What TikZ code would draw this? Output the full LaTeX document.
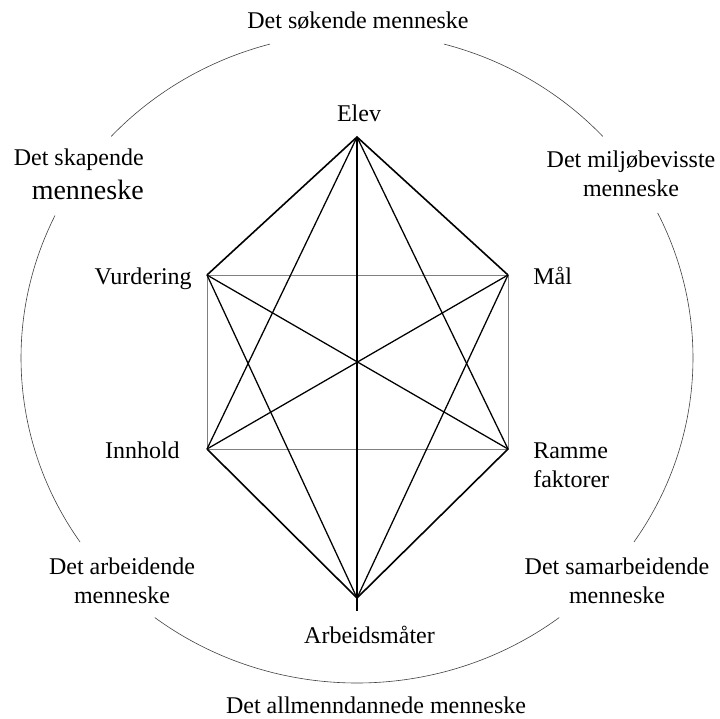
\documentclass[tikz,border=0pt]{standalone}
\usepackage{fontspec}
\setmainfont{Liberation Serif}
\begin{document}
\begin{tikzpicture}[x=0.75pt,y=0.75pt,
  lbl/.style={font=\fontsize{18}{21.75}\selectfont, inner sep=0pt},
  ring/.style={line width=0.45pt, black!75},
  heavy/.style={line width=1.2pt, line join=miter},
  mid/.style={line width=0.95pt},
  axisline/.style={line width=1.7pt},
  frame/.style={line width=0.7pt, black!50}]
\useasboundingbox (0,0) rectangle (720,718);
\coordinate (C) at (357,360);
\foreach \a/\b in {105/137,154/214.5,233/307,325.5/386.5,43/75}
  \draw[ring] ([shift={(\a:336 and 325)}]C) arc[start angle=\a,end angle=\b,x radius=336,y radius=325];
% vertices
\coordinate (E) at (357,581);
\coordinate (V) at (207,443);
\coordinate (M) at (508,443);
\coordinate (I) at (207,269);
\coordinate (R) at (508,269);
\coordinate (A) at (357,120);
\coordinate (Abot) at (357,107);
% connectors
\draw[frame] (V) -- (M) -- (R) -- (I) -- cycle;
\draw[mid] (E) -- (I);
\draw[mid] (E) -- (R);
\draw[mid] (V) -- (R);
\draw[mid] (I) -- (M);
\draw[mid] (V) -- (A);
\draw[mid] (M) -- (A);
\draw[heavy] (V) -- (E) -- (M);
\draw[heavy] (I) -- (A) -- (R);
\draw[axisline] (E) -- (Abot);
% labels
\node[lbl, anchor=base] (sok) at (358,689) {Det søkende menneske};
\node[lbl, anchor=base] (elev) at (359,596) {Elev};
\node[lbl, anchor=base east] (vur) at (192,433) {Vurdering};
\node[lbl, anchor=base west] (maal) at (533,433) {Mål};
\node[lbl, anchor=base east] (inn) at (180,260) {Innhold};
\node[lbl, anchor=base west, align=left] (ram) at (533,231) {Ramme\\faktorer};
\node[lbl, anchor=base] (arb) at (369.5,75) {Arbeidsmåter};
\node[lbl, anchor=base] (all) at (376,5) {Det allmenndannede menneske};
\node[lbl, anchor=base east, align=right] (skap) at (144,518) {Det skapende\\[3.75pt]{\fontsize{21}{25}\selectfont menneske}};
\node[lbl, anchor=base, align=center] (milj) at (631,521) {Det miljøbevisste\\menneske};
\node[lbl, anchor=base, align=center] (arbm) at (122,115) {Det arbeidende\\menneske};
\node[lbl, anchor=base, align=center] (sam) at (617,115) {Det samarbeidende\\menneske};
\end{tikzpicture}
\end{document}
